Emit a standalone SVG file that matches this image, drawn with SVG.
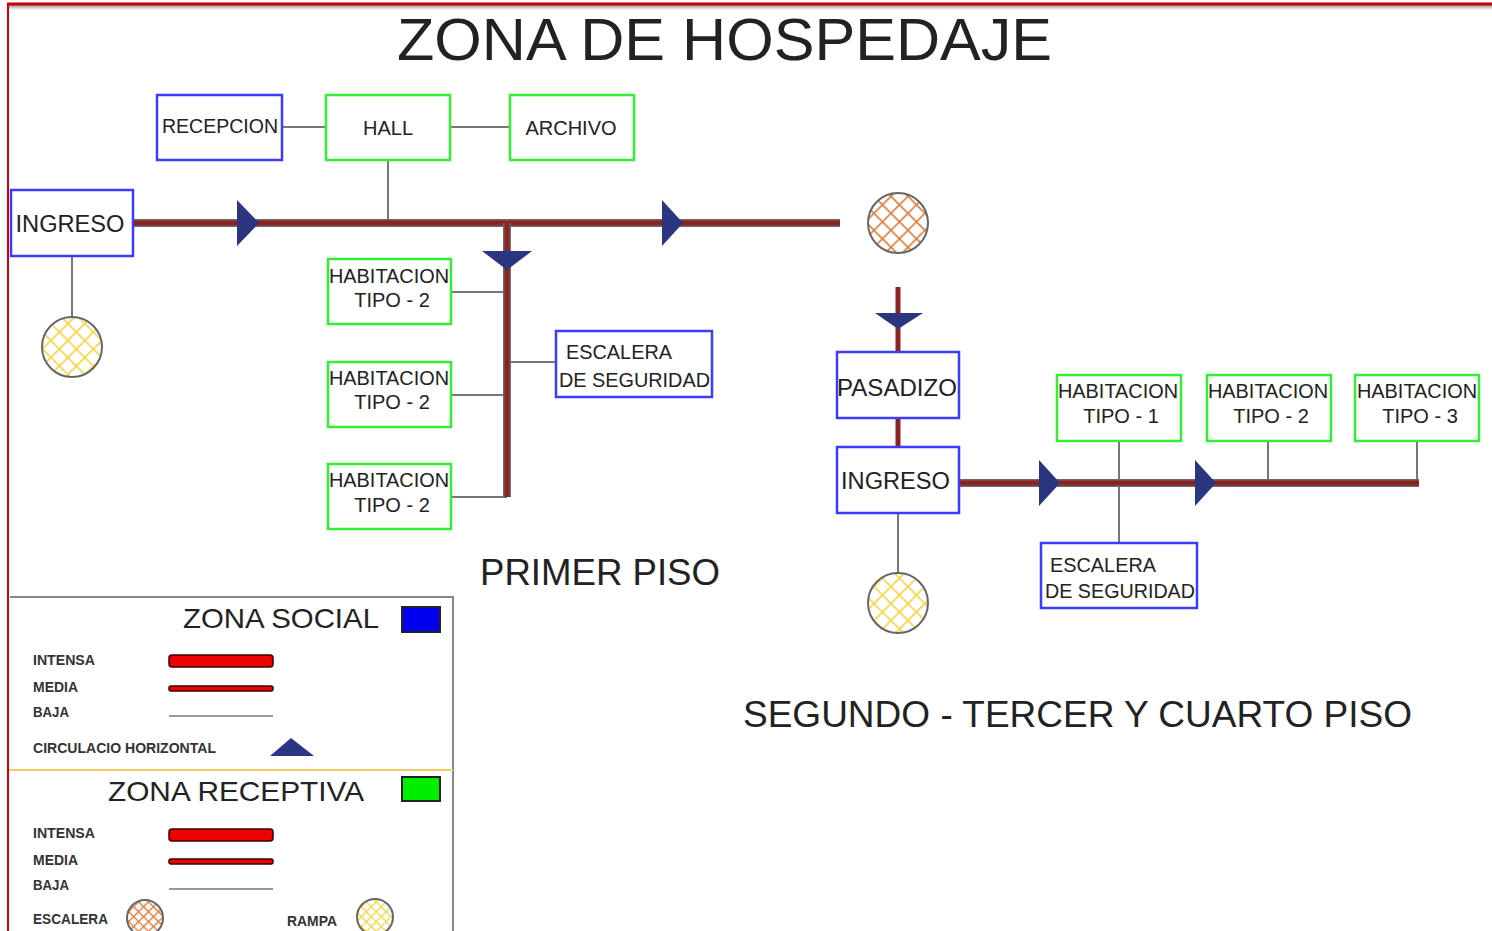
<svg xmlns="http://www.w3.org/2000/svg" width="1492" height="931" viewBox="0 0 1492 931">
<style>
text{font-family:"Liberation Sans",Arial,sans-serif;fill:#222}
.nb{fill:#fff;stroke:#3c3cff;stroke-width:2.5}
.ng{fill:#fff;stroke:#33ee33;stroke-width:2.5}
.t20{font-size:20px}
.t23{font-size:23.5px}
.thin{stroke:#777;stroke-width:2;fill:none}
.thickbg{stroke:#6a6a6a;stroke-width:8;fill:none}
.thick{stroke:#8b2323;stroke-width:5;fill:none}
.arr{fill:#2b3580}
.lg{font-size:14px;font-weight:bold;fill:#333}
.circ{stroke:#666;stroke-width:2}
</style>
<defs>
<pattern id="hatchO" patternUnits="userSpaceOnUse" width="12" height="12" patternTransform="rotate(45)">
<rect width="12" height="12" fill="#fff"/>
<line x1="0" y1="0" x2="0" y2="12" stroke="#e07b39" stroke-width="3.2"/>
<line x1="0" y1="0" x2="12" y2="0" stroke="#e07b39" stroke-width="3.2"/>
</pattern>
<pattern id="hatchY" patternUnits="userSpaceOnUse" width="12" height="12" patternTransform="rotate(45)">
<rect width="12" height="12" fill="#fff"/>
<line x1="0" y1="0" x2="0" y2="12" stroke="#f5d442" stroke-width="3.2"/>
<line x1="0" y1="0" x2="12" y2="0" stroke="#f5d442" stroke-width="3.2"/>
</pattern>
<pattern id="hatchOs" patternUnits="userSpaceOnUse" width="7" height="7" patternTransform="rotate(45)">
<rect width="7" height="7" fill="#fff"/>
<line x1="0" y1="0" x2="0" y2="7" stroke="#e07b39" stroke-width="2.6"/>
<line x1="0" y1="0" x2="7" y2="0" stroke="#e07b39" stroke-width="2.6"/>
</pattern>
<pattern id="hatchYs" patternUnits="userSpaceOnUse" width="7" height="7" patternTransform="rotate(45)">
<rect width="7" height="7" fill="#fff"/>
<line x1="0" y1="0" x2="0" y2="7" stroke="#f5d442" stroke-width="2.6"/>
<line x1="0" y1="0" x2="7" y2="0" stroke="#f5d442" stroke-width="2.6"/>
</pattern>
<linearGradient id="shadow" x1="0" y1="0" x2="0" y2="1">
<stop offset="0" stop-color="#999"/>
<stop offset="1" stop-color="#fff"/>
</linearGradient>
</defs>
<rect width="1492" height="931" fill="#fff"/>
<!-- frame -->
<rect x="8" y="5" width="1484" height="5" fill="url(#shadow)"/>
<line x1="7" y1="4" x2="1492" y2="4" stroke="#cc0000" stroke-width="3"/>
<line x1="8" y1="3" x2="8" y2="931" stroke="#cc0000" stroke-width="2"/>

<text x="724.5" y="60" font-size="59.5" text-anchor="middle" fill="#111" textLength="655" lengthAdjust="spacingAndGlyphs">ZONA DE HOSPEDAJE</text>

<g id="connectors">
<!-- first floor -->
<line class="thin" x1="282" y1="127" x2="326" y2="127"/>
<line class="thin" x1="450" y1="127" x2="510" y2="127"/>
<line class="thin" x1="388" y1="160" x2="388" y2="222"/>
<line class="thin" x1="451" y1="292" x2="507" y2="292"/>
<line class="thin" x1="451" y1="395" x2="507" y2="395"/>
<line class="thin" x1="451" y1="497" x2="507" y2="497"/>
<line class="thin" x1="507" y1="362" x2="556" y2="362"/>
<line class="thin" x1="72" y1="256" x2="72" y2="317"/>
<line class="thickbg" x1="133" y1="223" x2="840" y2="223"/>
<line class="thick" x1="133" y1="223" x2="840" y2="223"/>
<line class="thickbg" x1="507" y1="223" x2="507" y2="497"/>
<line class="thick" x1="507" y1="223" x2="507" y2="497"/>
<polygon class="arr" points="237,200 259,223 237,246"/>
<polygon class="arr" points="662,200 683,223 662,246"/>
<polygon class="arr" points="482,251 532,251 507,270"/>
<!-- upper floors -->
<line class="thick" x1="898" y1="287" x2="898" y2="352" stroke-width="6"/>
<polygon class="arr" points="875,313 923,313 898,329"/>
<line class="thick" x1="898" y1="418" x2="898" y2="447" stroke-width="6"/>
<line class="thin" x1="1119" y1="441" x2="1119" y2="543"/>
<line class="thin" x1="1268" y1="441" x2="1268" y2="483"/>
<line class="thin" x1="1417" y1="441" x2="1417" y2="483"/>
<line class="thin" x1="898" y1="513" x2="898" y2="573"/>
<line class="thickbg" x1="959" y1="483" x2="1419" y2="483"/>
<line class="thick" x1="959" y1="483" x2="1419" y2="483"/>
<polygon class="arr" points="1039,460 1060,483 1039,506"/>
<polygon class="arr" points="1195,460 1216,483 1195,506"/>
</g>

<g id="recepcion"><rect class="nb" x="157" y="95" width="125" height="65"/><text class="t20" x="220" y="133" text-anchor="middle" textLength="116" lengthAdjust="spacingAndGlyphs">RECEPCION</text></g>
<g id="hall"><rect class="ng" x="326" y="95" width="124" height="65"/><text class="t20" x="388" y="135" text-anchor="middle">HALL</text></g>
<g id="archivo"><rect class="ng" x="510" y="95" width="124" height="65"/><text class="t20" x="571" y="135" text-anchor="middle">ARCHIVO</text></g>
<g id="ingreso1"><rect class="nb" x="11" y="190" width="122" height="66"/><text class="t23" x="70" y="232" text-anchor="middle" textLength="109" lengthAdjust="spacingAndGlyphs">INGRESO</text></g>
<g id="rampa1"><circle class="circ" cx="72" cy="347" r="30" fill="url(#hatchY)"/></g>
<g id="hab2a"><rect class="ng" x="328" y="259" width="123" height="65"/><text class="t20" x="389" y="283" text-anchor="middle" textLength="120" lengthAdjust="spacingAndGlyphs">HABITACION</text><text class="t20" x="392" y="307" text-anchor="middle">TIPO - 2</text></g>
<g id="hab2b"><rect class="ng" x="328" y="362" width="123" height="65"/><text class="t20" x="389" y="385" text-anchor="middle" textLength="120" lengthAdjust="spacingAndGlyphs">HABITACION</text><text class="t20" x="392" y="409" text-anchor="middle">TIPO - 2</text></g>
<g id="hab2c"><rect class="ng" x="328" y="464" width="123" height="65"/><text class="t20" x="389" y="487" text-anchor="middle" textLength="120" lengthAdjust="spacingAndGlyphs">HABITACION</text><text class="t20" x="392" y="512" text-anchor="middle">TIPO - 2</text></g>
<g id="escalera1"><rect class="nb" x="556" y="331" width="156" height="66"/><text class="t20" x="566" y="359" textLength="106" lengthAdjust="spacingAndGlyphs">ESCALERA</text><text class="t20" x="559" y="387" textLength="151" lengthAdjust="spacingAndGlyphs">DE SEGURIDAD</text></g>
<g id="escalera-circ"><circle class="circ" cx="898" cy="223" r="30" fill="url(#hatchO)"/></g>

<g id="pasadizo"><rect class="nb" x="837" y="352" width="122" height="66"/><text class="t23" x="897" y="396" text-anchor="middle" textLength="120" lengthAdjust="spacingAndGlyphs">PASADIZO</text></g>
<g id="ingreso2"><rect class="nb" x="837" y="447" width="122" height="66"/><text class="t23" x="895.5" y="489" text-anchor="middle" textLength="109" lengthAdjust="spacingAndGlyphs">INGRESO</text></g>
<g id="rampa2"><circle class="circ" cx="898" cy="603" r="30" fill="url(#hatchY)"/></g>
<g id="hab1"><rect class="ng" x="1057" y="375" width="124" height="66"/><text class="t20" x="1118" y="398" text-anchor="middle" textLength="120" lengthAdjust="spacingAndGlyphs">HABITACION</text><text class="t20" x="1121" y="423" text-anchor="middle">TIPO - 1</text></g>
<g id="hab2"><rect class="ng" x="1207" y="375" width="124" height="66"/><text class="t20" x="1268" y="398" text-anchor="middle" textLength="120" lengthAdjust="spacingAndGlyphs">HABITACION</text><text class="t20" x="1271" y="423" text-anchor="middle">TIPO - 2</text></g>
<g id="hab3"><rect class="ng" x="1355" y="375" width="124" height="66"/><text class="t20" x="1417" y="398" text-anchor="middle" textLength="120" lengthAdjust="spacingAndGlyphs">HABITACION</text><text class="t20" x="1420" y="423" text-anchor="middle">TIPO - 3</text></g>
<g id="escalera2"><rect class="nb" x="1041" y="543" width="156" height="65"/><text class="t20" x="1050" y="572" textLength="106" lengthAdjust="spacingAndGlyphs">ESCALERA</text><text class="t20" x="1045" y="598" textLength="150" lengthAdjust="spacingAndGlyphs">DE SEGURIDAD</text></g>

<text x="600" y="585" font-size="36" text-anchor="middle" textLength="240" lengthAdjust="spacingAndGlyphs">PRIMER PISO</text>
<text x="1077.5" y="727" font-size="36.5" text-anchor="middle" textLength="669" lengthAdjust="spacingAndGlyphs">SEGUNDO - TERCER Y CUARTO PISO</text>

<g id="legend">
<polyline points="10,597 453,597 453,931" fill="none" stroke="#888" stroke-width="2"/>
<line x1="9" y1="770" x2="453" y2="770" stroke="#f0d060" stroke-width="2"/>
<text x="183" y="628" font-size="28.5" textLength="196" lengthAdjust="spacingAndGlyphs">ZONA SOCIAL</text>
<rect x="402" y="607" width="38" height="25" fill="#0000ee" stroke="#222" stroke-width="2"/>
<text class="lg" x="33" y="665" textLength="62" lengthAdjust="spacingAndGlyphs">INTENSA</text>
<rect x="169" y="655" width="104" height="12" rx="3" fill="#ee0000" stroke="#3a0000" stroke-width="1.5"/>
<text class="lg" x="33" y="692" textLength="45" lengthAdjust="spacingAndGlyphs">MEDIA</text>
<rect x="169" y="686" width="104" height="5" rx="2" fill="#ee0000" stroke="#3a0000" stroke-width="1.5"/>
<text class="lg" x="33" y="717" textLength="36" lengthAdjust="spacingAndGlyphs">BAJA</text>
<line x1="169" y1="716" x2="273" y2="716" stroke="#999" stroke-width="2"/>
<text class="lg" x="33" y="753" textLength="183" lengthAdjust="spacingAndGlyphs">CIRCULACIO HORIZONTAL</text>
<polygon class="arr" points="270,756 291,738 314,756"/>
<text x="108" y="801" font-size="28.5" textLength="256" lengthAdjust="spacingAndGlyphs">ZONA RECEPTIVA</text>
<rect x="402" y="777" width="38" height="24" fill="#00ee00" stroke="#222" stroke-width="2"/>
<text class="lg" x="33" y="838" textLength="62" lengthAdjust="spacingAndGlyphs">INTENSA</text>
<rect x="169" y="829" width="104" height="12" rx="3" fill="#ee0000" stroke="#3a0000" stroke-width="1.5"/>
<text class="lg" x="33" y="865" textLength="45" lengthAdjust="spacingAndGlyphs">MEDIA</text>
<rect x="169" y="859" width="104" height="5" rx="2" fill="#ee0000" stroke="#3a0000" stroke-width="1.5"/>
<text class="lg" x="33" y="890" textLength="36" lengthAdjust="spacingAndGlyphs">BAJA</text>
<line x1="169" y1="889" x2="273" y2="889" stroke="#999" stroke-width="2"/>
<text class="lg" x="33" y="924" textLength="75" lengthAdjust="spacingAndGlyphs">ESCALERA</text>
<circle class="circ" cx="145" cy="918" r="18" fill="url(#hatchOs)"/>
<text class="lg" x="287" y="926" textLength="50" lengthAdjust="spacingAndGlyphs">RAMPA</text>
<circle class="circ" cx="375" cy="917" r="18" fill="url(#hatchYs)"/>
</g>
</svg>
